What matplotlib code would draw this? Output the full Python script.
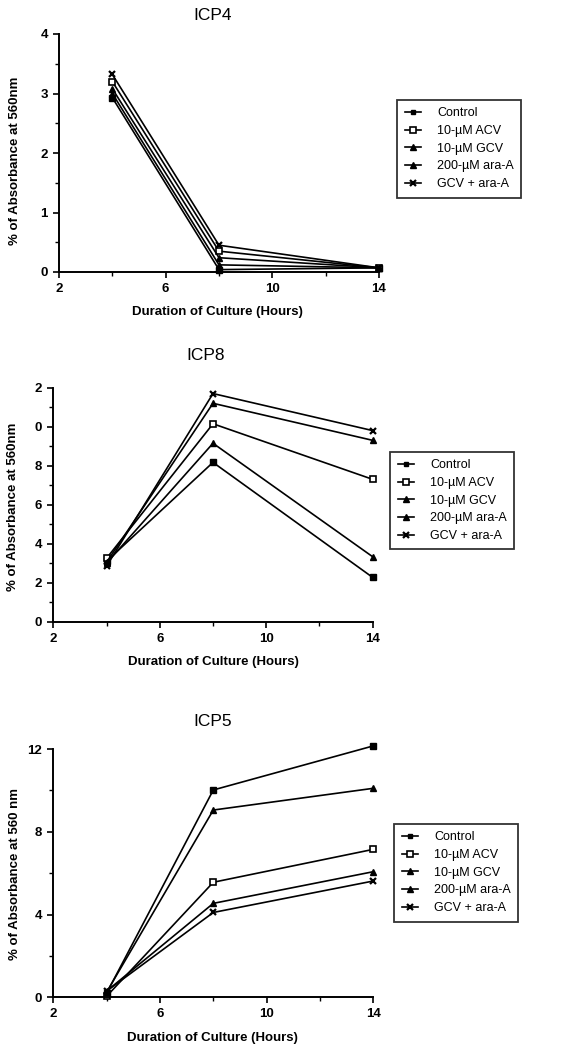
import matplotlib
matplotlib.use("Agg")
import matplotlib.pyplot as plt
from matplotlib.ticker import FixedLocator, MultipleLocator

plt.rcParams['font.family'] = ['Liberation Sans', 'DejaVu Sans']

hours = [4, 8, 14]
series_names = ["Control", "10-\u00b5M ACV", "10-\u00b5M GCV", "200-\u00b5M ara-A", "GCV + ara-A"]

icp4_control = [2.93, 0.04, 0.07]
icp4_acv = [3.20, 0.35, 0.07]
icp4_gcv = [3.00, 0.12, 0.07]
icp4_araa = [3.08, 0.24, 0.07]
icp4_combo = [3.32, 0.45, 0.07]

icp8_control = [3.1, 8.17, 2.27]
icp8_acv = [3.25, 10.15, 7.3]
icp8_gcv = [3.0, 9.15, 3.33]
icp8_araa = [3.05, 11.2, 9.3]
icp8_combo = [2.85, 11.7, 9.8]

icp5_control = [0.2, 10.02, 12.15]
icp5_acv = [0.05, 5.56, 7.15]
icp5_gcv = [0.3, 4.54, 6.07]
icp5_araa = [0.25, 9.05, 10.1]
icp5_combo = [0.3, 4.1, 5.62]

titles = ["ICP4", "ICP8", "ICP5"]
xlabel = "Duration of Culture (Hours)"
ylabels = ["% of Absorbance at 560nm", "% of Absorbance at 560nm", "% of Absorbance at 560 nm"]
xticks = [2, 6, 10, 14]
xtick_labels = ["2", "6", "10", "14"]
yticks_icp4 = [0, 1, 2, 3, 4]
ytick_labels_icp4 = ["0", "1", "2", "3", "4"]
yticks_icp8 = [0, 2, 4, 6, 8, 10, 12]
ytick_labels_icp8 = ["0", "2", "4", "6", "8", "0", "2"]
yticks_icp5 = [0, 4, 8, 12]
ytick_labels_icp5 = ["0", "4", "8", "12"]

styles = [
    dict(marker='s', mfc='black', mec='black', ms=4),
    dict(marker='s', mfc='white', mec='black', ms=4.5, mew=1.2),
    dict(marker='^', mfc='black', mec='black', ms=4.5),
    dict(marker='^', mfc='black', mec='black', ms=4.5),
    dict(marker='x', mfc='black', mec='black', ms=4.5, mew=1.6),
]

W, H = 569, 1046
fig = plt.figure(figsize=(W / 100, H / 100), dpi=100)

panels = [
    dict(data=[icp4_control, icp4_acv, icp4_gcv, icp4_araa, icp4_combo],
         box=(59, 34, 379, 272), ylim=(0, 4), yt=yticks_icp4, ytl=ytick_labels_icp4,
         yminor=0.5, leg=(397, 100), title=(213, 15), xl=(217, 312), yl=(15, 161)),
    dict(data=[icp8_control, icp8_acv, icp8_gcv, icp8_araa, icp8_combo],
         box=(53.3, 387.7, 372.7, 621.7), ylim=(0, 12), yt=yticks_icp8, ytl=ytick_labels_icp8,
         yminor=1, leg=(390, 452), title=(206, 355), xl=(213, 662), yl=(13, 507)),
    dict(data=[icp5_control, icp5_acv, icp5_gcv, icp5_araa, icp5_combo],
         box=(53.3, 749, 373.3, 997.3), ylim=(0, 12), yt=yticks_icp5, ytl=ytick_labels_icp5,
         yminor=2, leg=(394, 824), title=(213, 722), xl=(212, 1038), yl=(15, 874)),
]

for i, p in enumerate(panels):
    l, t, r, b = p['box']
    ax = fig.add_axes([l / W, (H - b) / H, (r - l) / W, (b - t) / H])
    handles = []
    for vals, name, st in zip(p['data'], series_names, styles):
        h, = ax.plot(hours, vals, color='black', lw=1.2, label=name, clip_on=False, **st)
        handles.append(h)
    ax.set_xlim(2, 14)
    ax.set_ylim(*p['ylim'])
    for s in ['top', 'right']:
        ax.spines[s].set_visible(False)
    for s in ['left', 'bottom']:
        ax.spines[s].set_linewidth(1.4)
    ax.xaxis.set_major_locator(FixedLocator(xticks))
    ax.set_xticklabels(xtick_labels, fontsize=9.5, fontweight='bold')
    ax.xaxis.set_minor_locator(MultipleLocator(2))
    ax.yaxis.set_major_locator(FixedLocator(p['yt']))
    ax.set_yticklabels(p['ytl'], fontsize=9.5, fontweight='bold')
    ax.yaxis.set_minor_locator(MultipleLocator(p['yminor']))
    ax.tick_params(which='major', length=4, width=1.2, direction='out', pad=4)
    ax.tick_params(which='minor', length=3, width=1.0, direction='out')
    fig.text(p['yl'][0] / W, 1 - p['yl'][1] / H, ylabels[i], rotation=90, ha='center', va='center',
             fontsize=9.5, fontweight='bold')
    fig.text(p['title'][0] / W, 1 - p['title'][1] / H, titles[i], ha='center', va='center', fontsize=12.5)
    fig.text(p['xl'][0] / W, 1 - p['xl'][1] / H, xlabel, ha='center', va='center',
             fontsize=9.5, fontweight='bold')
    ll, lt = p['leg']
    leg = fig.legend(handles=handles, loc='upper left',
                     bbox_to_anchor=(ll / W, 1 - lt / H),
                     bbox_transform=fig.transFigure, borderaxespad=0,
                     fontsize=9.0, frameon=True, fancybox=False, edgecolor='black',
                     handlelength=1.3, handletextpad=1.3, labelspacing=0.45,
                     borderpad=0.6, markerscale=0.85)
    leg.get_frame().set_linewidth(1.3)

fig.savefig("out.png", dpi=100)
